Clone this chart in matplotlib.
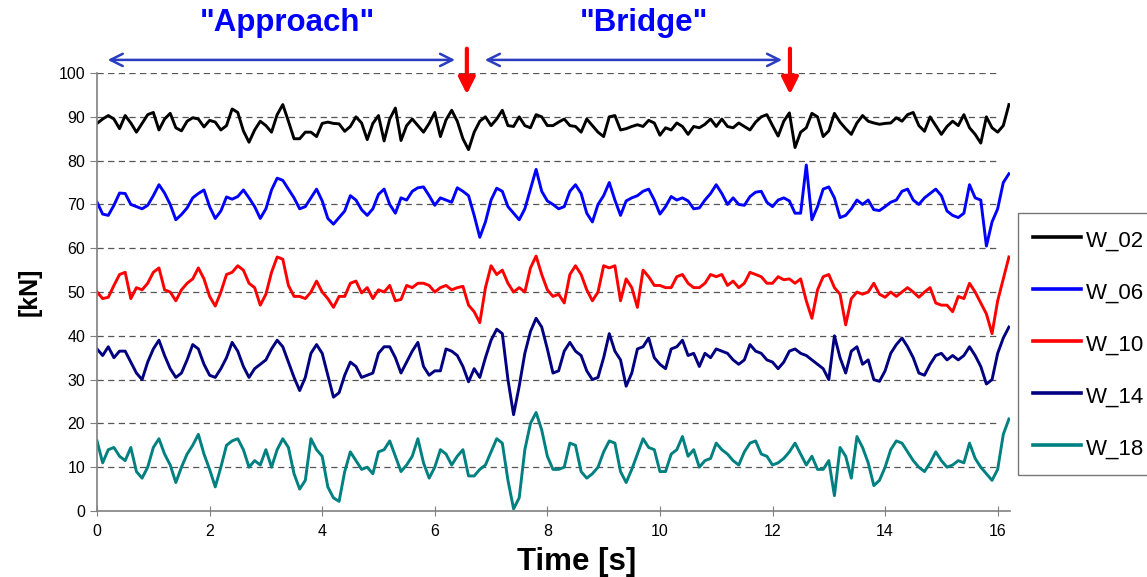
import numpy as np
import matplotlib
matplotlib.use("Agg")
import matplotlib.pyplot as plt

plt.rcParams["font.family"] = ["Liberation Sans", "DejaVu Sans"]

# ======================
# DATA (0.1 s steps)
# ======================
time_s = np.arange(163) * 0.1

w_02 = [88.5, 89.5, 90.3, 89.5, 87.3, 90.3, 88.6, 86.5, 88.5, 90.5,
        91.0, 87.0, 89.5, 90.8, 87.5, 86.8, 89.0, 89.8, 89.5, 87.7,
        89.2, 88.8, 87.0, 88.0, 91.8, 91.0, 86.8, 84.2, 87.0, 89.0,
        88.0, 86.5, 90.5, 92.8, 89.0, 85.0, 85.0, 86.5, 86.5, 85.5,
        88.5, 88.8, 88.5, 88.4, 86.7, 87.8, 90.0, 88.6, 84.8, 88.5,
        90.3, 84.5, 89.5, 92.0, 84.6, 88.0, 89.5, 88.0, 86.5, 88.5,
        91.0, 85.5, 89.3, 91.5, 89.0, 85.0, 82.5, 86.5, 89.0, 90.0,
        88.0, 89.5, 91.5, 88.0, 87.8, 90.0, 88.0, 87.5, 90.5, 90.0,
        88.0, 88.0, 88.8, 89.5, 88.0, 87.8, 86.5, 89.5, 88.0, 86.5,
        85.5, 90.0, 90.3, 87.0, 87.3, 87.8, 88.2, 87.8, 89.2, 88.6,
        85.8, 87.5, 87.0, 88.6, 87.8, 86.0, 87.8, 87.5, 88.3, 89.5,
        87.8, 89.5, 87.8, 87.5, 88.6, 87.8, 87.0, 88.8, 90.0, 90.5,
        88.0, 85.6, 89.0, 90.9, 83.0, 86.5, 87.5, 90.8, 90.0, 85.5,
        86.8, 90.8, 88.8, 87.3, 86.0, 88.6, 90.3, 89.0, 88.6, 88.3,
        88.5, 88.6, 89.8, 89.0, 90.5, 91.0, 88.0, 86.7, 90.0, 88.0,
        86.0, 87.8, 89.0, 88.0, 90.5, 87.5, 86.0, 84.0, 90.0, 87.5,
        86.5, 88.0, 92.8]

w_06 = [70.5, 67.8, 67.5, 69.8, 72.6, 72.5, 70.0, 69.5, 69.0, 69.8,
        72.0, 74.5, 72.6, 70.0, 66.5, 67.7, 69.2, 71.5, 72.5, 73.3,
        69.5, 66.8, 68.5, 71.7, 71.2, 71.8, 73.3, 71.5, 69.5, 66.8,
        69.0, 73.3, 76.0, 75.5, 73.5, 71.5, 69.0, 69.5, 71.5, 73.5,
        70.8, 66.8, 65.5, 67.0, 68.5, 72.0, 71.0, 68.8, 67.5, 69.0,
        72.3, 73.5, 70.0, 68.0, 71.5, 71.0, 73.0, 73.8, 74.0, 72.0,
        69.8, 71.5, 71.0, 70.5, 73.8, 73.0, 72.0, 67.5, 62.5, 66.0,
        71.0, 73.7, 73.0, 69.5, 68.0, 66.5, 69.0, 73.5, 78.0, 73.0,
        70.8, 70.0, 69.0, 69.5, 73.0, 74.5, 72.5, 68.0, 66.0, 70.0,
        72.0, 75.0, 71.0, 67.5, 70.8, 71.5, 72.0, 73.0, 73.5, 71.0,
        67.8, 69.5, 71.8, 71.0, 71.5, 70.8, 69.0, 69.2, 71.0, 72.5,
        74.5, 72.5, 70.0, 71.5, 70.0, 69.8, 71.8, 72.8, 73.0, 70.5,
        69.5, 71.0, 71.5, 70.8, 68.0, 68.0, 79.0, 66.5, 69.5, 73.5,
        74.0, 71.5, 67.0, 67.5, 69.0, 71.0, 70.0, 71.0, 68.8, 68.6,
        69.5, 70.5, 71.0, 73.0, 73.5, 71.0, 70.0, 71.5, 72.5, 73.5,
        72.0, 68.5, 67.5, 67.0, 68.0, 74.5, 71.5, 71.0, 60.5, 66.0,
        69.0, 75.0, 77.0]

w_10 = [50.0, 48.5, 48.8, 51.5, 54.0, 54.5, 48.5, 51.0, 50.5, 52.0,
        54.5, 55.5, 50.5, 50.0, 48.0, 50.5, 52.0, 53.0, 55.5, 53.0,
        49.0, 46.8, 50.0, 54.0, 54.5, 56.0, 55.0, 52.0, 51.0, 47.0,
        49.5, 54.5, 58.0, 57.5, 51.5, 49.0, 49.0, 48.5, 50.0, 52.5,
        50.0, 48.5, 46.5, 49.0, 49.0, 52.0, 52.5, 49.8, 51.0, 48.5,
        50.5, 50.0, 51.5, 48.0, 48.3, 51.5, 51.0, 52.0, 52.0, 51.5,
        50.0, 51.0, 51.5, 50.5, 51.0, 51.3, 47.0, 45.5, 43.0, 51.0,
        56.0, 54.0, 55.0, 52.0, 50.0, 51.0, 50.0, 55.5, 58.2, 54.0,
        50.5, 49.0, 49.5, 47.5, 54.0, 56.0, 54.0, 50.5, 48.0, 50.0,
        56.0, 55.5, 56.0, 48.0, 53.0, 51.0, 46.5, 55.0, 53.5, 51.5,
        51.5, 51.0, 51.0, 53.5, 54.0, 52.0, 51.0, 51.0, 52.0, 54.0,
        53.5, 54.0, 51.5, 52.5, 51.0, 52.0, 54.5, 54.0, 53.5, 52.0,
        52.0, 53.5, 52.8, 53.0, 52.0, 53.0, 48.0, 44.0, 50.5, 53.5,
        54.0, 51.0, 49.5, 42.5, 48.5, 50.0, 49.5, 50.0, 52.0, 49.5,
        48.8, 50.0, 49.0, 50.0, 51.0, 50.0, 48.8, 50.0, 51.0, 47.5,
        47.0, 47.0, 45.5, 49.0, 48.5, 52.0, 50.0, 47.5, 45.0, 40.5,
        48.0, 53.0, 58.0]

w_14 = [37.0, 35.5, 37.5, 35.0, 36.5, 36.5, 34.0, 31.5, 30.0, 34.0,
        37.0, 39.0, 35.5, 32.5, 30.5, 31.5, 34.5, 38.0, 37.0, 33.5,
        31.0, 30.5, 32.5, 35.0, 38.5, 36.5, 33.0, 30.5, 32.5, 33.5,
        34.5, 37.0, 39.0, 37.5, 34.0, 30.5, 27.5, 30.5, 36.0, 38.0,
        36.0, 31.0, 26.0, 27.0, 31.0, 34.0, 33.0, 30.5, 31.0, 31.5,
        36.0, 37.5, 37.5, 35.0, 31.5, 34.0, 36.5, 38.5, 33.0, 31.0,
        32.0, 32.0, 37.0, 36.5, 35.5, 33.0, 29.5, 32.5, 30.5, 35.0,
        39.0, 41.5, 40.5, 30.0, 22.0, 28.5, 36.0, 41.0, 44.0, 42.0,
        37.0, 31.5, 32.0, 36.5, 38.5, 36.5, 35.5, 32.0, 30.0, 30.5,
        35.0, 40.5, 36.5, 34.5, 28.5, 31.5, 37.0, 37.5, 39.5, 35.0,
        33.5, 32.5, 37.0, 37.5, 39.0, 35.5, 36.0, 33.0, 36.0, 35.0,
        37.0, 36.5, 36.0, 34.5, 33.5, 34.5, 38.0, 36.5, 36.0, 34.5,
        34.0, 32.5, 34.0, 36.5, 37.0, 36.0, 35.5, 34.5, 33.5, 32.5,
        30.0, 40.0, 35.0, 31.5, 36.5, 37.5, 33.5, 34.5, 30.0, 29.6,
        32.0, 36.0, 38.0, 39.5, 37.5, 35.0, 31.5, 31.0, 33.5, 35.5,
        36.0, 34.5, 35.5, 34.5, 35.5, 37.5, 35.5, 33.0, 29.0, 30.0,
        36.0, 39.5, 42.0]

w_18 = [16.0, 11.0, 14.0, 14.5, 12.5, 11.5, 14.5, 9.0, 7.5, 10.0,
        14.5, 16.5, 13.0, 10.5, 6.5, 10.0, 13.0, 15.0, 17.5, 13.0,
        9.5, 5.5, 10.0, 15.0, 16.0, 16.5, 14.0, 10.0, 11.5, 10.5,
        14.0, 10.0, 14.0, 16.5, 14.5, 8.5, 5.0, 7.0, 16.5, 14.0,
        12.5, 5.5, 3.0, 2.2, 9.0, 13.5, 11.5, 9.5, 10.0, 8.5,
        13.5, 14.0, 16.0, 12.5, 9.0, 10.5, 12.5, 16.5, 11.0, 7.5,
        10.0, 14.0, 13.0, 10.5, 12.5, 14.0, 8.0, 8.0, 9.5, 10.5,
        13.5, 16.5, 15.5, 7.0, 0.5, 3.0, 14.0, 20.0, 22.5, 18.5,
        12.5, 9.5, 9.5, 10.0, 15.5, 15.0, 9.0, 7.5, 8.5, 10.0,
        13.5, 16.0, 15.5, 9.0, 6.5, 9.5, 13.0, 16.5, 14.5, 14.0,
        9.0, 9.0, 13.0, 14.0, 17.0, 12.5, 14.0, 10.0, 11.5, 12.0,
        15.5, 14.0, 13.0, 11.5, 10.5, 13.5, 15.5, 16.0, 13.0, 12.5,
        10.5, 11.0, 12.0, 13.5, 15.5, 13.0, 10.5, 12.5, 9.5, 9.5,
        11.5, 3.5, 14.5, 12.5, 7.5, 17.0, 14.5, 11.0, 5.8, 7.0,
        10.0, 14.0, 16.0, 15.5, 13.5, 11.5, 10.0, 9.0, 11.0, 13.5,
        11.5, 10.0, 10.5, 11.5, 11.0, 15.5, 12.0, 10.0, 8.5, 7.0,
        9.5, 17.5, 21.0]

series = [("W_02", w_02, "#000000"),
          ("W_06", w_06, "#0000ff"),
          ("W_10", w_10, "#ff0000"),
          ("W_14", w_14, "#000080"),
          ("W_18", w_18, "#008080")]

# phase limits [s]
approach = (0.14, 6.41)
bridge = (6.84, 12.22)
markers = [6.57, 12.31]

# ======================
# PLOT
# ======================
fig = plt.figure(figsize=(11.47, 5.77), dpi=100)
ax = fig.add_axes([0.0846, 0.1144, 0.796, 0.759])

for label, vals, col in series:
    ax.plot(time_s, vals, color=col, lw=2.1, label=label)

ax.set_xlim(0, 16.22)
ax.set_ylim(0, 100)
ax.set_xticks(np.arange(0, 17, 2))
ax.set_yticks(np.arange(0, 101, 10))
ax.hlines(np.arange(10, 101, 10), 0, 16, colors="#555555", linestyles=(0, (5, 3.5)),
          lw=0.9, zorder=0)

for side in ["top", "right"]:
    ax.spines[side].set_visible(False)
for side in ["left", "bottom"]:
    ax.spines[side].set_color("#808080")
    ax.spines[side].set_linewidth(1.2)
ax.tick_params(axis="x", direction="inout", length=7, colors="#808080",
               labelcolor="black", labelsize=11.5, pad=6)
ax.tick_params(axis="y", direction="out", length=5, colors="#808080",
               labelcolor="black", labelsize=11.5)

ax.set_xlabel("Time [s]", fontsize=22.5, fontweight="bold")
ax.xaxis.set_label_coords(0.525, -0.083)
ax.xaxis.label.set_va("top")
ax.set_ylabel("[kN]", fontsize=18, fontweight="bold", labelpad=12)

# phase arrows and labels
arrow_blue = "#2a3cc0"
for a, b in [approach, bridge]:
    ax.annotate("", xy=(a, 103), xytext=(b, 103), annotation_clip=False,
                arrowprops=dict(arrowstyle="<->", color=arrow_blue, lw=1.8,
                                mutation_scale=22))
ax.text(3.38, 111.5, '"Approach"', color="#0000ff", fontsize=22.5,
        fontweight="bold", ha="center", va="center", clip_on=False)
ax.text(9.72, 111.5, '"Bridge"', color="#0000ff", fontsize=22.5,
        fontweight="bold", ha="center", va="center", clip_on=False)
for m in markers:
    ax.annotate("", xy=(m, 94.5), xytext=(m, 106.2), annotation_clip=False,
                arrowprops=dict(arrowstyle="-|>", color="#ff0000", lw=3,
                                mutation_scale=25))

leg = fig.legend(loc="upper left", bbox_to_anchor=(0.8875, 0.631),
                 frameon=True, fancybox=False, edgecolor="#555555",
                 fontsize=16, labelspacing=1.27, handlelength=2.16,
                 handleheight=1.2, handletextpad=0.22, borderpad=0.66,
                 borderaxespad=0)
leg.get_frame().set_linewidth(1.0)
for line in leg.get_lines():
    line.set_linewidth(2.6)

fig.savefig("out.png", dpi=100)
